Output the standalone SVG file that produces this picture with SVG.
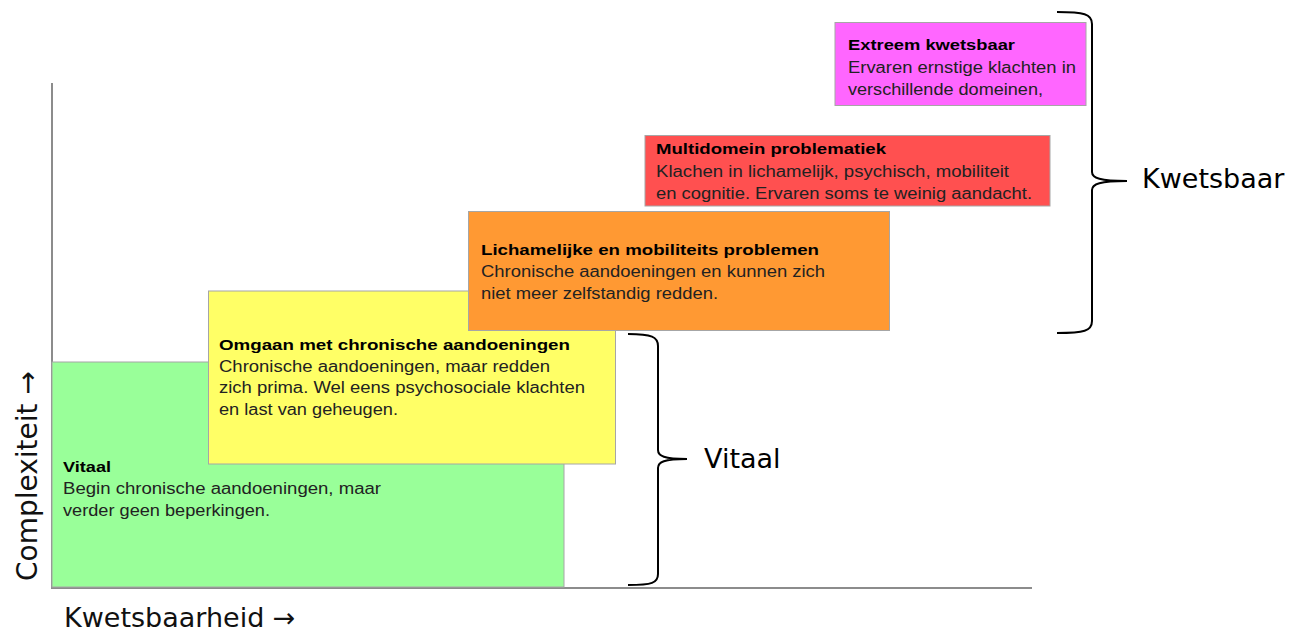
<svg xmlns="http://www.w3.org/2000/svg" width="1299" height="632" viewBox="0 0 1299 632">
<style>
.box{stroke:#a6a6a6;stroke-width:1}
.t{font-family:"Liberation Sans",Arial,sans-serif;font-size:16px;fill:#222}
.tb{font-family:"Liberation Sans",Arial,sans-serif;font-size:15.5px;font-weight:bold;fill:#000}
.lbl{font-family:"DejaVu Sans",Verdana,sans-serif;font-size:27px;fill:#111}
.axis{stroke:#8c8c8c;stroke-width:2;fill:none}
.brace{stroke:#000;stroke-width:2;fill:none}
</style>
<rect width="1299" height="632" fill="#fff"/>
<g id="axes">
<line class="axis" x1="52" y1="83" x2="52" y2="588"/>
<line class="axis" x1="51" y1="588" x2="1032" y2="588"/>
<text class="lbl" x="64" y="627">Kwetsbaarheid →</text>
<text class="lbl" transform="translate(37,581) rotate(-90)" style="font-size:28px">Complexiteit →</text>
</g>
<g id="vitaal">
<rect class="box" x="52" y="362" width="512" height="225" fill="#99ff99"/>
<text class="tb" x="63" y="472" textLength="48" lengthAdjust="spacingAndGlyphs">Vitaal</text>
<text class="t" x="63" y="494" textLength="318" lengthAdjust="spacingAndGlyphs">Begin chronische aandoeningen, maar</text>
<text class="t" x="63" y="516" textLength="207" lengthAdjust="spacingAndGlyphs">verder geen beperkingen.</text>
</g>
<g id="omgaan">
<rect class="box" x="208.5" y="291" width="407" height="173" fill="#ffff66"/>
<text class="tb" x="219" y="350" textLength="351" lengthAdjust="spacingAndGlyphs">Omgaan met chronische aandoeningen</text>
<text class="t" x="219" y="372" textLength="331" lengthAdjust="spacingAndGlyphs">Chronische aandoeningen, maar redden</text>
<text class="t" x="219" y="393" textLength="366" lengthAdjust="spacingAndGlyphs">zich prima. Wel eens psychosociale klachten</text>
<text class="t" x="219" y="415" textLength="179" lengthAdjust="spacingAndGlyphs">en last van geheugen.</text>
</g>
<g id="lichamelijk">
<rect class="box" x="468.5" y="211.5" width="421" height="119" fill="#ff9933"/>
<text class="tb" x="481" y="255" textLength="338" lengthAdjust="spacingAndGlyphs">Lichamelijke en mobiliteits problemen</text>
<text class="t" x="481" y="277" textLength="344" lengthAdjust="spacingAndGlyphs">Chronische aandoeningen en kunnen zich</text>
<text class="t" x="481" y="299" textLength="237" lengthAdjust="spacingAndGlyphs">niet meer zelfstandig redden.</text>
</g>
<g id="multidomein">
<rect class="box" x="645" y="135.5" width="405" height="70.5" fill="#ff5050"/>
<text class="tb" x="656" y="154" textLength="230" lengthAdjust="spacingAndGlyphs">Multidomein problematiek</text>
<text class="t" x="656" y="177" textLength="353" lengthAdjust="spacingAndGlyphs">Klachen in lichamelijk, psychisch, mobiliteit</text>
<text class="t" x="656" y="199" textLength="376" lengthAdjust="spacingAndGlyphs">en cognitie. Ervaren soms te weinig aandacht.</text>
</g>
<g id="extreem">
<rect class="box" x="835" y="22.5" width="251" height="83" fill="#ff66ff"/>
<text class="tb" x="848" y="50" textLength="167" lengthAdjust="spacingAndGlyphs">Extreem kwetsbaar</text>
<text class="t" x="848" y="73" textLength="228" lengthAdjust="spacingAndGlyphs">Ervaren ernstige klachten in</text>
<text class="t" x="848" y="95" textLength="195" lengthAdjust="spacingAndGlyphs">verschillende domeinen,</text>
</g>
<g id="connectors">
<path class="brace" d="M628,334 C652,334 658,337 658,346 L658,450 C658,456 664,459 687,459 C664,459 658,462 658,468 L658,574 C658,583 652,585 628,585"/>
<path class="brace" d="M1057,12 C1084,12 1092,14 1092,24 L1092,172 C1092,178 1100,181 1127,181 C1100,181 1092,184 1092,190 L1092,321 C1092,331 1084,333 1057,333"/>
</g>
<g id="brace-labels">
<text class="lbl" x="704" y="468" style="fill:#000">Vitaal</text>
<text class="lbl" x="1142" y="188" style="fill:#000">Kwetsbaar</text>
</g>
</svg>
